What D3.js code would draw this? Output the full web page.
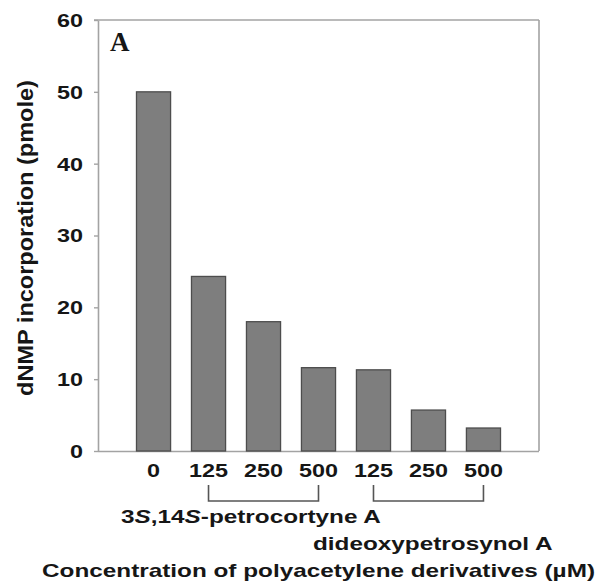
<!DOCTYPE html>
<html>
<head>
<meta charset="utf-8">
<script src="https://cdn.jsdelivr.net/npm/d3@7"></script>
<style>
  html, body { margin: 0; padding: 0; background: #fff; }
  svg { display: block; }
  text { font-family: "Liberation Sans", Arial, sans-serif; font-weight: bold; fill: #161616; }
</style>
</head>
<body>
<script>
// ---- data ----
const categories = ["0", "125a", "250a", "500a", "125b", "250b", "500b"];
const tickLabels = ["0", "125", "250", "500", "125", "250", "500"];
const values = [50, 24.3, 18.0, 11.6, 11.3, 5.7, 3.2];
const yTicks = [0, 10, 20, 30, 40, 50, 60];
const groups = [
  { name: "petrocortyne", from: "125a", to: "500a" },
  { name: "dideoxy", from: "125b", to: "500b" }
];

(function () {
const W = 598, H = 585;
const svg = d3.select("body").append("svg").attr("width", W).attr("height", H);

const pLeft = 98, pRight = 539, pTop = 20, pBottom = 451;
const x = d3.scaleBand().domain(categories).range([pLeft, pRight])
  .paddingInner(0.38).paddingOuter(0.7);
const y = d3.scaleLinear().domain([0, 60]).range([pBottom, pTop]);

const frame = "#a3a3a3";
const sx = 1.3; // horizontal stretch of the original artwork's lettering

// frame top and right
svg.append("line").attr("x1", pLeft - 4).attr("x2", pRight).attr("y1", pTop).attr("y2", pTop)
  .attr("stroke", frame).attr("stroke-width", 1.6);
svg.append("line").attr("x1", pRight).attr("x2", pRight).attr("y1", pTop).attr("y2", pBottom)
  .attr("stroke", frame).attr("stroke-width", 1.6);

// y axis
const gy = svg.append("g").attr("transform", `translate(${pLeft},0)`)
  .call(d3.axisLeft(y).tickValues(yTicks).tickSize(4).tickSizeOuter(0));
gy.select(".domain").attr("stroke", frame).attr("stroke-width", 1.6);
gy.selectAll(".tick line").attr("stroke", frame).attr("stroke-width", 1.4);
gy.selectAll(".tick text")
  .attr("x", 0).attr("dy", "0.36em")
  .attr("text-anchor", "end")
  .attr("transform", `translate(-15,0) scale(${sx},1)`)
  .style("font-size", "18px").style("font-family", "Liberation Sans, Arial, sans-serif")
  .style("font-weight", "bold").attr("fill", "#161616");

// x axis
const gx = svg.append("g").attr("transform", `translate(0,${pBottom})`)
  .call(d3.axisBottom(x).tickSize(0).tickSizeOuter(0).tickFormat((d, i) => tickLabels[i]));
gx.select(".domain").attr("stroke", frame).attr("stroke-width", 1.6)
  .attr("d", `M${pLeft},0.5H${pRight}`);
gx.selectAll(".tick text")
  .attr("y", 0).attr("dy", 0)
  .attr("transform", `translate(0,26) scale(${sx},1)`)
  .style("font-size", "18px").style("font-family", "Liberation Sans, Arial, sans-serif")
  .style("font-weight", "bold").attr("fill", "#161616");

// bars
svg.append("g").selectAll("rect").data(categories).join("rect")
  .attr("x", d => x(d))
  .attr("y", (d, i) => y(values[i]))
  .attr("width", x.bandwidth())
  .attr("height", (d, i) => y(0) - y(values[i]))
  .attr("fill", "#7e7e7e")
  .attr("stroke", "#4d4d4d")
  .attr("stroke-width", 1.3);

// panel letter
svg.append("text").attr("x", 110).attr("y", 51)
  .style("font-family", "Liberation Serif, Times New Roman, serif")
  .style("font-size", "27px").style("font-weight", "bold").attr("fill", "#1a1a1a")
  .text("A");

// brackets
const bTop = 485, bBot = 501;
svg.append("g").selectAll("path").data(groups).join("path")
  .attr("d", g => {
    const a = x(g.from) + x.bandwidth() / 2, b = x(g.to) + x.bandwidth() / 2;
    return `M${a},${bTop}V${bBot}H${b}V${bTop}`;
  })
  .attr("fill", "none").attr("stroke", "#555").attr("stroke-width", 1.6);

// labels under axis
const t1 = svg.append("text").attr("transform", `translate(121,523) scale(1.28,1)`)
  .style("font-size", "19px");
t1.append("tspan").text("3");
t1.append("tspan").style("font-style", "italic").text("S");
t1.append("tspan").text(",14");
t1.append("tspan").style("font-style", "italic").text("S");
t1.append("tspan").text("-petrocortyne A");

svg.append("text").attr("transform", `translate(313,550) scale(1.28,1)`)
  .style("font-size", "19px").text("dideoxypetrosynol A");

svg.append("text").attr("transform", `translate(42,577) scale(1.28,1)`)
  .style("font-size", "19px").text("Concentration of polyacetylene derivatives (\u00b5M)");

// y axis title
svg.append("text")
  .attr("transform", `translate(33,238) rotate(-90) scale(1.07,1)`)
  .attr("text-anchor", "middle")
  .style("font-size", "22px").text("dNMP incorporation (pmole)");
})();
</script>
</body>
</html>
